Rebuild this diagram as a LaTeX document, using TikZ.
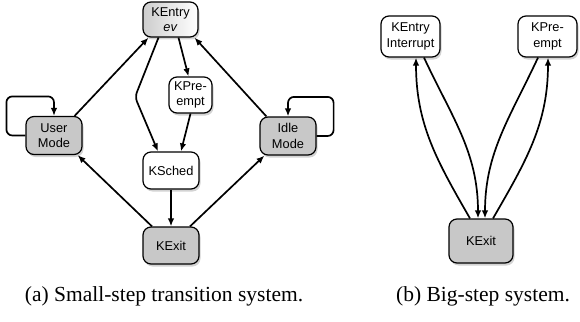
\documentclass[tikz,border=0pt]{standalone}
\usepackage{fontspec}
\setmainfont{Liberation Serif}
\setsansfont{Liberation Sans}
\usetikzlibrary{arrows.meta,shadows}

\begin{document}
\begin{tikzpicture}[x=1pt,y=1pt,font=\sffamily,>={Latex[length=8pt,width=6.5pt]}]

\useasboundingbox (0,0) rectangle (580,-321);

\definecolor{state_fill}{RGB}{255,255,255}
\definecolor{mode_fill}{RGB}{200,200,200}
\definecolor{entry_fill}{RGB}{205,205,205}
\definecolor{state_draw}{RGB}{0,0,0}
\tikzstyle{state_style}=[draw=state_draw,fill=state_fill,rectangle,rounded corners=8pt,align=center,line width=1.2pt,inner sep=2pt,font=\sffamily\fontsize{12.8}{15.5}\selectfont,drop shadow={shadow xshift=1.5pt,shadow yshift=-2.5pt,opacity=0.35}]
\tikzstyle{mode_style}=[state_style,fill=mode_fill]
\tikzstyle{entry_style}=[state_style,left color=entry_fill,right color=state_fill]

\definecolor{edge_draw}{RGB}{0,0,0}
\tikzstyle{edge_style}=[draw=edge_draw,line width=1.7pt]
\tikzstyle{caption_style}=[font=\rmfamily\fontsize{21.5}{25}\selectfont]

% small-step transition system
\node(KEntry) at (170.5,-19.5) [entry_style,minimum width=55pt,minimum height=35pt] {KEntry\\\textit{ev}};

\node(KPreempt) at (190.5,-95) [state_style,minimum width=43pt,minimum height=36pt] {KPre-\\empt};

\node(UserMode) at (54,-135.5) [mode_style,minimum width=56pt,minimum height=38pt] {User\\Mode};

\node(IdleMode) at (288,-136) [mode_style,minimum width=56pt,minimum height=38pt] {Idle\\Mode};

\node(KSched) at (171,-170.5) [state_style,minimum width=56pt,minimum height=37pt] {KSched};

\node(KExit) at (171,-245.5) [mode_style,minimum width=56pt,minimum height=37pt] {KExit};

\coordinate(kink) at (135,-97);

\draw[->,edge_style] ([xshift=-8pt]UserMode.north east) -- ([xshift=-22pt]KEntry.south);
\draw[->,edge_style] ([xshift=7pt]IdleMode.north west) -- ([xshift=24pt]KEntry.south);
\draw[->,edge_style,rounded corners=5pt] ([xshift=-12pt]KEntry.south) -- (kink) -- ([xshift=-13pt]KSched.north);
\draw[->,edge_style] ([xshift=8pt]KEntry.south) -- ([xshift=-2pt]KPreempt.north);
\draw[->,edge_style] (KPreempt.south) -- ([xshift=10pt]KSched.north);
\draw[->,edge_style] (KSched.south) -- (KExit.north);
\draw[->,edge_style] ([xshift=-19pt]KExit.north) -- ([xshift=-5pt]UserMode.south east);
\draw[->,edge_style] ([xshift=19pt]KExit.north) -- ([xshift=5pt]IdleMode.south west);
\draw[->,edge_style,rounded corners=6pt] (UserMode.west) -- ++(-19pt,0) |- ([yshift=19.5pt]UserMode.north) -- (UserMode.north);
\draw[->,edge_style,rounded corners=6pt] (IdleMode.east) -- ++(17pt,0) |- ([yshift=19.5pt]IdleMode.north) -- (IdleMode.north);

\node(CaptionA) at (164,-296) [caption_style] {(a) Small-step transition system.};

% big-step system
\node(KEntryInt) at (410.5,-36.5) [state_style,minimum width=59pt,minimum height=41pt] {KEntry\\Interrupt};

\node(KPreemptBig) at (547.5,-36.5) [state_style,minimum width=59pt,minimum height=41pt] {KPre-\\empt};

\node(KExitBig) at (481,-241) [mode_style,minimum width=64pt,minimum height=44pt] {KExit};

\draw[->,edge_style] ([xshift=-11pt]KExitBig.north) to[out=120,in=-90] ([xshift=5.5pt]KEntryInt.south);
\draw[->,edge_style] ([xshift=13.5pt]KEntryInt.south) to[out=-65,in=90] ([xshift=-3pt]KExitBig.north);
\draw[->,edge_style] ([xshift=-9.5pt]KPreemptBig.south) to[out=-115,in=90] ([xshift=4pt]KExitBig.north);
\draw[->,edge_style] ([xshift=12pt]KExitBig.north) to[out=60,in=-90] ([xshift=0.5pt]KPreemptBig.south);

\node(CaptionB) at (483,-296) [caption_style] {(b) Big-step system.};

\end{tikzpicture}
\end{document}
